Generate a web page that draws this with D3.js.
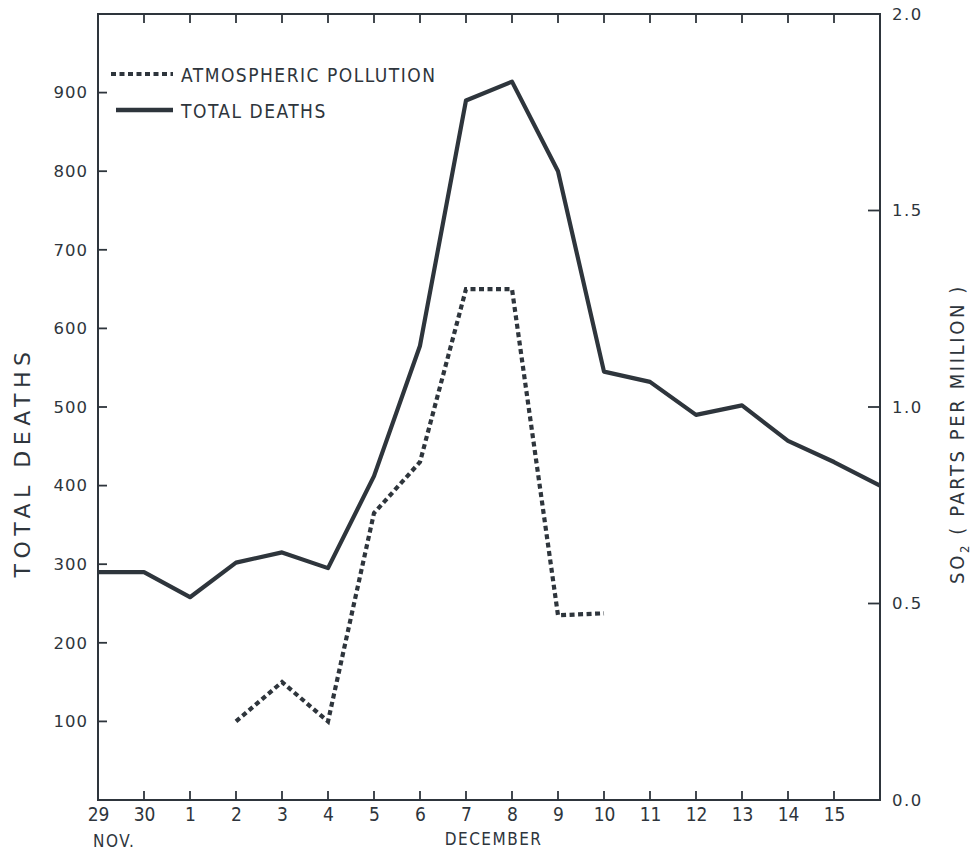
<!DOCTYPE html>
<html>
<head>
<meta charset="utf-8">
<script src="https://cdn.jsdelivr.net/npm/d3@7"></script>
<style>
  html, body { margin: 0; padding: 0; background: #ffffff; }
  svg { display: block; }
</style>
</head>
<body>
<svg id="chart" width="971" height="852"></svg>
<script>
// ---- data ----
const dayLabels = ["29","30","1","2","3","4","5","6","7","8","9","10","11","12","13","14","15"];
const deathDays = [0,1,2,3,4,5,6,7,8,9,10,11,12,13,14,15,16,17];
const totalDeaths = [290,290,258,302,315,295,412,578,890,914,800,545,532,490,502,457,430,400];
const pollutionDays = [3,4,5,6,7,8,9,10,11];
const pollution = [0.20,0.30,0.20,0.73,0.86,1.30,1.30,0.47,0.475];
const leftTicks = [100,200,300,400,500,600,700,800,900];
const rightTicks = [0.0,0.5,1.0,1.5,2.0];
const legendLabels = ["ATMOSPHERIC POLLUTION","TOTAL DEATHS"];

const ink = "#2e353c";
const svg = d3.select("#chart");
const L = 98, R = 880, T = 14, B = 800;

const x = d3.scaleLinear().domain([0, 17]).range([L, R]);
const yL = d3.scaleLinear().domain([0, 1000]).range([B, T]);
const yR = d3.scaleLinear().domain([0, 2]).range([B, T]);

const condensed = "'DejaVu Sans Condensed', 'Liberation Sans Narrow', sans-serif";
const round = "'DejaVu Sans', Lato, sans-serif";

// frame
svg.append("rect").attr("x", L).attr("y", T).attr("width", R - L).attr("height", B - T)
  .attr("fill", "none").attr("stroke", ink).attr("stroke-width", 2);

// bottom axis (ticks inward)
const tickIdx = d3.range(1, 17);
const bottom = d3.axisBottom(x).tickValues(d3.range(0, 17)).tickSize(0).tickPadding(0)
  .tickFormat((d, i) => dayLabels[i]);
const gB = svg.append("g").attr("transform", `translate(0,${B})`).call(bottom);
gB.select(".domain").remove();
gB.selectAll("text").attr("font-family", condensed).attr("font-size", 19).attr("fill", ink)
  .attr("dy", "0").attr("y", 21);
svg.append("g").selectAll("line").data(tickIdx).join("line")
  .attr("x1", d => x(d)).attr("x2", d => x(d)).attr("y1", B).attr("y2", B - 9)
  .attr("stroke", ink).attr("stroke-width", 1.8);
// top ticks
svg.append("g").selectAll("line").data(tickIdx).join("line")
  .attr("x1", d => x(d)).attr("x2", d => x(d)).attr("y1", T).attr("y2", T + 9)
  .attr("stroke", ink).attr("stroke-width", 1.8);

// left axis
const left = d3.axisLeft(yL).tickValues(leftTicks).tickSize(0).tickPadding(10);
const gL = svg.append("g").attr("transform", `translate(${L},0)`).call(left);
gL.select(".domain").remove();
gL.selectAll("text").attr("font-family", round).attr("font-size", 16.5).attr("fill", ink)
  .attr("letter-spacing", "1px");
svg.append("g").selectAll("line").data(leftTicks).join("line")
  .attr("x1", L).attr("x2", L + 9).attr("y1", d => yL(d)).attr("y2", d => yL(d))
  .attr("stroke", ink).attr("stroke-width", 1.8);

// right axis
const right = d3.axisRight(yR).tickValues(rightTicks).tickSize(0).tickPadding(12)
  .tickFormat(d3.format(".1f"));
const gR = svg.append("g").attr("transform", `translate(${R},0)`).call(right);
gR.select(".domain").remove();
gR.selectAll("text").attr("font-family", round).attr("font-size", 16.5).attr("fill", ink)
  .attr("letter-spacing", "1.5px");
svg.append("g").selectAll("line").data([0.5, 1.0, 1.5]).join("line")
  .attr("x1", R).attr("x2", R - 12).attr("y1", d => yR(d)).attr("y2", d => yR(d))
  .attr("stroke", ink).attr("stroke-width", 1.8);

// axis titles
svg.append("text").attr("transform", `translate(30,462) rotate(-90)`)
  .attr("text-anchor", "middle").attr("font-family", round).attr("font-size", 22)
  .attr("letter-spacing", "5.5px").attr("fill", ink).text("TOTAL DEATHS");
const rt = svg.append("text").attr("transform", `translate(964,434) rotate(-90)`)
  .attr("text-anchor", "middle").attr("font-family", condensed).attr("font-size", 20)
  .attr("letter-spacing", "2.6px").attr("fill", ink);
rt.append("tspan").text("SO");
rt.append("tspan").attr("font-size", 13).attr("dy", 5).text("2");
rt.append("tspan").attr("dy", -5).text("  ( PARTS PER MIILION )");

// x labels
svg.append("text").attr("x", 93).attr("y", 847).attr("font-family", condensed)
  .attr("font-size", 17).attr("letter-spacing", "1.5px").attr("fill", ink).text("NOV.");
svg.append("text").attr("x", x(8.6)).attr("y", 845).attr("text-anchor", "middle")
  .attr("font-family", condensed).attr("font-size", 17).attr("letter-spacing", "1.5px")
  .attr("fill", ink).text("DECEMBER");

// lines
const lineD = d3.line().x((d, i) => x(deathDays[i])).y(d => yL(d));
svg.append("path").datum(totalDeaths).attr("d", lineD).attr("fill", "none")
  .attr("stroke", ink).attr("stroke-width", 4.2).attr("stroke-linejoin", "round");

const lineP = d3.line().x((d, i) => x(pollutionDays[i])).y(d => yR(d));
svg.append("path").datum(pollution).attr("d", lineP).attr("fill", "none")
  .attr("stroke", ink).attr("stroke-width", 4.2).attr("stroke-dasharray", "5 3.5");

// legend
const lg = svg.append("g");
lg.append("line").attr("x1", 111).attr("x2", 173).attr("y1", 74).attr("y2", 74)
  .attr("stroke", ink).attr("stroke-width", 4.2).attr("stroke-dasharray", "5 3.5");
lg.append("line").attr("x1", 116).attr("x2", 173).attr("y1", 110).attr("y2", 110)
  .attr("stroke", ink).attr("stroke-width", 4.5);
lg.selectAll("text").data(legendLabels).join("text")
  .attr("x", 181).attr("y", (d, i) => 82 + i * 36)
  .attr("font-family", condensed).attr("font-size", 19).attr("letter-spacing", "1.5px")
  .attr("fill", ink).text(d => d);
</script>
</body>
</html>
